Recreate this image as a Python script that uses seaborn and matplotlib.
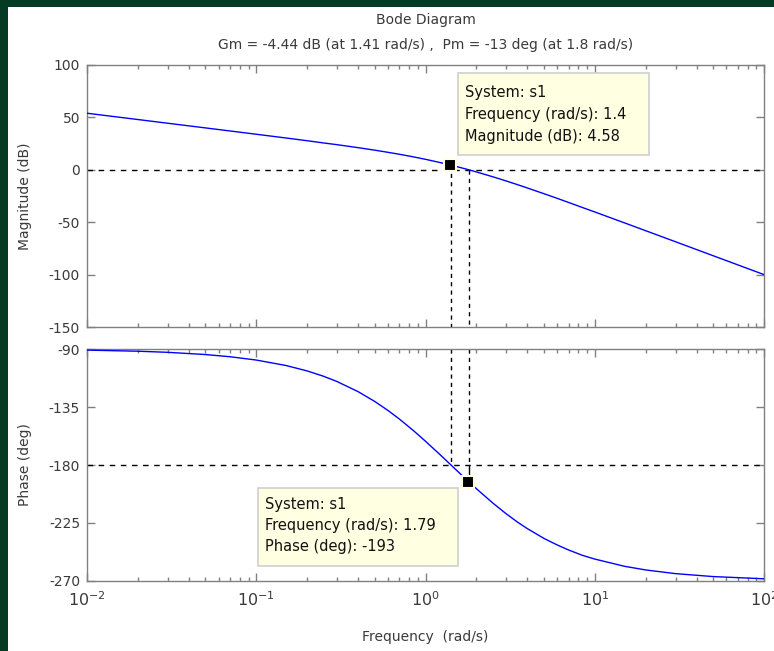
import matplotlib
matplotlib.use("Agg")
import matplotlib.pyplot as plt
from matplotlib.patches import Rectangle
from matplotlib.ticker import LogLocator, NullFormatter, FixedLocator
import seaborn as sns
import pandas as pd

# ---- data ----
freq = [0.01, 0.02, 0.03, 0.05, 0.07, 0.1, 0.15, 0.2, 0.25, 0.3, 0.4, 0.5, 0.6,
        0.7, 0.85, 1.0, 1.2, 1.4, 1.6, 1.79, 2.0, 2.5, 3.0, 3.5, 4.0, 5.0, 6.0,
        7.0, 8.5, 10.0, 15.0, 20.0, 30.0, 50.0, 100.0]
mag_db = [53.98, 47.96, 44.43, 39.99, 37.05, 33.93, 30.34, 27.74, 25.62, 23.97,
          21.12, 18.77, 16.68, 14.84, 12.31, 10.00, 7.19, 4.61, 2.24, 0.13,
          -2.04, -6.67, -10.68, -14.19, -17.36, -22.75, -27.23, -31.13,
          -36.12, -40.21, -50.66, -58.12, -68.65, -81.95, -100.00]
phase_deg = [-90.86, -91.72, -92.58, -94.29, -96.01, -98.57, -102.82, -107.02,
             -111.17, -115.23, -123.11, -130.60, -137.66, -144.28, -153.39,
             -161.57, -171.15, -179.45, -186.65, -192.6, -198.43, -209.54,
             -217.88, -224.35, -229.39, -236.89, -242.03, -245.92, -250.19,
             -252.98, -258.60, -261.43, -264.28, -266.56, -268.28]

gm_freq = 1.41
gm_mag = 4.44
pm_freq = 1.8
tip_mag = (1.4, 4.58)
tip_phase = (1.79, -193)

mag_ticks = [100, 50, 0, -50, -100, -150]
phase_ticks = [-90, -135, -180, -225, -270]
title1 = "Bode Diagram"
title2 = "Gm = -4.44 dB (at 1.41 rad/s) ,  Pm = -13 deg (at 1.8 rad/s)"
tip1_lines = ["System: s1", "Frequency (rad/s): 1.4", "Magnitude (dB): 4.58"]
tip2_lines = ["System: s1", "Frequency (rad/s): 1.79", "Phase (deg): -193"]

df = pd.DataFrame({"freq": freq, "mag": mag_db, "phase": phase_deg})

# ---- style ----
sns.set_style("white")
plt.rcParams["font.family"] = ["DejaVu Sans"]
plt.rcParams["mathtext.fontset"] = "dejavusans"
plt.rcParams["axes.unicode_minus"] = False

FS = 10

W, H = 774, 651
fig = plt.figure(figsize=(W / 100, H / 100), dpi=100)
fig.patch.set_facecolor("white")

def fx(px):
    return px / W

def fy(py):
    return 1 - py / H

ax1 = fig.add_axes([fx(87), fy(327), fx(764) - fx(87), fy(65) - fy(327)])
ax2 = fig.add_axes([fx(87), fy(581), fx(764) - fx(87), fy(349) - fy(581)])

gray = "#808080"
tcol = "#3a3a3a"

for ax in (ax1, ax2):
    ax.set_xscale("log")
    ax.set_xlim(0.01, 100)
    for sp in ax.spines.values():
        sp.set_color(gray)
        sp.set_linewidth(1.0)
    ax.xaxis.set_major_locator(LogLocator(base=10, numticks=10))
    ax.xaxis.set_minor_locator(LogLocator(base=10, subs=range(2, 10), numticks=50))
    ax.xaxis.set_minor_formatter(NullFormatter())
    ax.tick_params(which="both", direction="in", top=True, right=True,
                   left=True, bottom=True,
                   color=gray, labelcolor=tcol, labelsize=FS)
    ax.tick_params(which="major", length=6, width=1)
    ax.tick_params(which="minor", length=3, width=1)
    ax.tick_params(axis="y", pad=5)
    ax.tick_params(axis="x", labelsize=11.5, pad=7)
    ax.set_facecolor("white")

# magnitude
sns.lineplot(data=df, x="freq", y="mag", ax=ax1, color="#0000FF", lw=1.0,
             estimator=None, sort=False, zorder=3)
ax1.set_xticklabels([])
ax1.set_xlabel("")
ax1.set_ylabel("Magnitude (dB)", fontsize=FS, color=tcol, labelpad=12)
ax1.axhline(0, color="black", ls=(0, (4, 4)), lw=1.0, zorder=2)
ax1.plot([gm_freq, gm_freq], [gm_mag, -150], color="black", ls=(0, (3, 3)), lw=1.0, zorder=2)
ax1.plot([pm_freq, pm_freq], [0, -150], color="black", ls=(0, (3, 3)), lw=1.0, zorder=2)
ax1.plot([tip_mag[0]], [tip_mag[1]], marker="s", ms=8, color="black",
         mec="#FFFFE1", mew=1.5, zorder=5, clip_on=False)
ax1.set_ylim(-150, 100)
ax1.yaxis.set_major_locator(FixedLocator(mag_ticks))

# phase
sns.lineplot(data=df, x="freq", y="phase", ax=ax2, color="#0000FF", lw=1.0,
             estimator=None, sort=False, zorder=3)
ax2.set_xlabel("Frequency  (rad/s)", fontsize=FS, color=tcol, labelpad=15)
ax2.set_ylabel("Phase (deg)", fontsize=FS, color=tcol, labelpad=12)
ax2.axhline(-180, color="black", ls=(0, (4, 4)), lw=1.0, zorder=2)
ax2.plot([gm_freq, gm_freq], [-90, -180], color="black", ls=(0, (3, 3)), lw=1.0, zorder=2)
ax2.plot([pm_freq, pm_freq], [-90, -180], color="black", ls=(0, (3, 3)), lw=1.0, zorder=2)
ax2.plot([pm_freq, pm_freq], [-180, tip_phase[1]], color="black", lw=1.0, zorder=2)
ax2.plot([tip_phase[0]], [tip_phase[1]], marker="s", ms=8, color="black",
         mec="#FFFFE1", mew=1.5, zorder=5)
ax2.set_ylim(-270, -90)
ax2.yaxis.set_major_locator(FixedLocator(phase_ticks))

# titles
fig.text(fx(425.5), fy(20), title1, ha="center", va="center", fontsize=FS, color=tcol)
fig.text(fx(425.5), fy(45), title2, ha="center", va="center", fontsize=FS, color=tcol)

# data tips
def datatip(x0, y0, x1, y1, lines, tx, ty0, dy):
    fig.patches.append(Rectangle((fx(x0), fy(y1)), fx(x1) - fx(x0), fy(y0) - fy(y1),
                                 transform=fig.transFigure, facecolor="#FFFFE1",
                                 edgecolor="#D0D0D0", lw=1.2, zorder=10))
    for i, s in enumerate(lines):
        fig.text(fx(tx), fy(ty0 + i * dy), s, ha="left", va="center",
                 fontsize=10.5, color="#111111", zorder=11)

datatip(458, 73, 649, 155, tip1_lines, 465, 92, 22.5)
datatip(258, 488, 458, 566, tip2_lines, 265, 504, 21.5)

# dark green frame (top and left)
fig.patches.append(Rectangle((0, fy(7)), 1, 1 - fy(7), transform=fig.transFigure,
                             facecolor="#063B23", edgecolor="none", zorder=20))
fig.patches.append(Rectangle((0, 0), fx(8), 1, transform=fig.transFigure,
                             facecolor="#063B23", edgecolor="none", zorder=20))

fig.savefig("out.png", dpi=100)
